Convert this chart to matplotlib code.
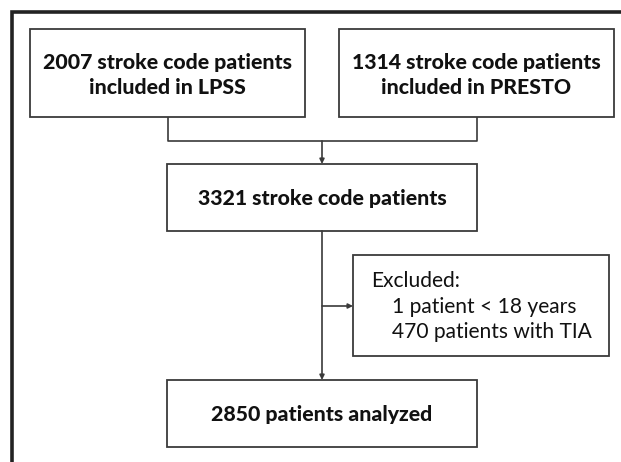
import matplotlib.pyplot as plt
from matplotlib.patches import Rectangle

# counts shown in the flow chart
n_lpss = 2007
n_presto = 1314
n_total = 3321
n_under18 = 1
n_tia = 470
n_analyzed = 2850

plt.rcParams['font.family'] = ['Lato', 'DejaVu Sans']

fig = plt.figure(figsize=(6.21, 4.62), dpi=100)
ax = fig.add_axes([0, 0, 1, 1])
ax.set_xlim(0, 621)
ax.set_ylim(462, 0)
ax.axis('off')

edge = '#3a3a3a'


def box(x0, y0, x1, y1):
    ax.add_patch(Rectangle((x0, y0), x1 - x0, y1 - y0, fill=False,
                           edgecolor=edge, linewidth=1.3))


def line(xs, ys):
    ax.plot(xs, ys, color=edge, linewidth=1.2, solid_capstyle='butt')


def arrow(x0, y0, x1, y1):
    ax.annotate('', xy=(x1, y1), xytext=(x0, y0),
                arrowprops=dict(arrowstyle='-|>', color=edge, lw=1.2,
                                mutation_scale=7, shrinkA=0, shrinkB=0))


# outer frame (open at right and bottom)
ax.plot([12, 12, 621], [462, 12, 12], color='#222222', linewidth=2.6,
        solid_joinstyle='miter')

# boxes
box(30, 29, 305, 117)
box(339, 29, 614, 117)
box(167, 164, 477, 231)
box(353, 255, 609, 356)
box(167, 380, 477, 447)

tkw = dict(ha='center', va='center', fontsize=15.3, fontweight='black',
           color='#111111', linespacing=1.35)
ax.text(167.5, 75, f'{n_lpss} stroke code patients\nincluded in LPSS', **tkw)
ax.text(476.5, 75, f'{n_presto} stroke code patients\nincluded in PRESTO', **tkw)
ax.text(322, 198, f'{n_total} stroke code patients', **tkw)
ax.text(322, 414, f'{n_analyzed} patients analyzed', **tkw)

ekw = dict(ha='left', va='center', fontsize=15.1, color='#111111')
ax.text(371, 281, 'Excluded:', **ekw)
ax.text(392, 307, f'{n_under18} patient < 18 years', **ekw)
ax.text(392, 332, f'{n_tia} patients with TIA', **ekw)

# connectors
line([167.5, 167.5, 476.5, 476.5], [117, 141, 141, 117])
arrow(322, 141, 322, 164)
arrow(322, 231, 322, 380)
arrow(322, 306, 353, 306)

fig.savefig('out.png', dpi=100)
